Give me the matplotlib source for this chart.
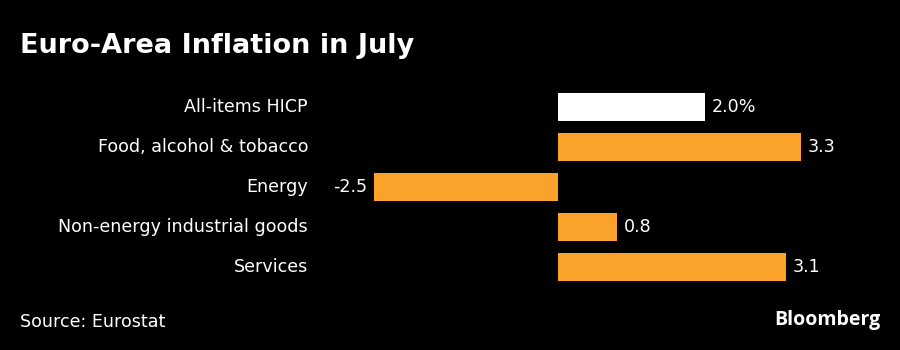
import matplotlib
matplotlib.use("Agg")
import matplotlib.pyplot as plt

categories = ["All-items HICP", "Food, alcohol & tobacco", "Energy",
              "Non-energy industrial goods", "Services"]
values = [2.0, 3.3, -2.5, 0.8, 3.1]
value_labels = ["2.0%", "3.3", "-2.5", "0.8", "3.1"]
colors = ["#FFFFFF", "#FBA22B", "#FBA22B", "#FBA22B", "#FBA22B"]

fig = plt.figure(figsize=(9, 3.5), dpi=100, facecolor="black")
ax = fig.add_axes([0.4077, 0.18, 0.5227, 0.5714])
ax.set_facecolor("black")
y = list(range(len(categories)))
ax.barh(y, values, height=0.7, color=colors)
ax.set_xlim(-2.6, 3.8)
ax.set_ylim(4.5, -0.5)
ax.axis("off")

lab_font = "DejaVu Sans"
fs = 12.6
for yi, v, lab, cat in zip(y, values, value_labels, categories):
    if v >= 0:
        ax.annotate(lab, (v, yi), xytext=(5, 0), textcoords="offset points",
                    ha="left", va="center", color="white", fontsize=fs, family=lab_font)
    else:
        ax.annotate(lab, (v, yi), xytext=(-5, 0), textcoords="offset points",
                    ha="right", va="center", color="white", fontsize=fs, family=lab_font)
    ax.annotate(cat, (0, yi), xycoords=("figure fraction", "data"),
                xytext=(308, 0), textcoords="offset pixels",
                ha="right", va="center", color="white", fontsize=fs, family=lab_font)

fig.text(20 / 900, 1 - 46 / 350, "Euro-Area Inflation in July", color="white",
         fontsize=19.5, fontweight="bold", family="DejaVu Sans", ha="left", va="center")
fig.text(20 / 900, 1 - 322 / 350, "Source: Eurostat", color="white",
         fontsize=fs, family=lab_font, ha="left", va="center")
fig.text(880 / 900, 1 - 320 / 350, "Bloomberg", color="white",
         fontsize=14, fontweight="bold", family="Open Sans", ha="right", va="center")

fig.savefig("out.png", dpi=100, facecolor="black")
